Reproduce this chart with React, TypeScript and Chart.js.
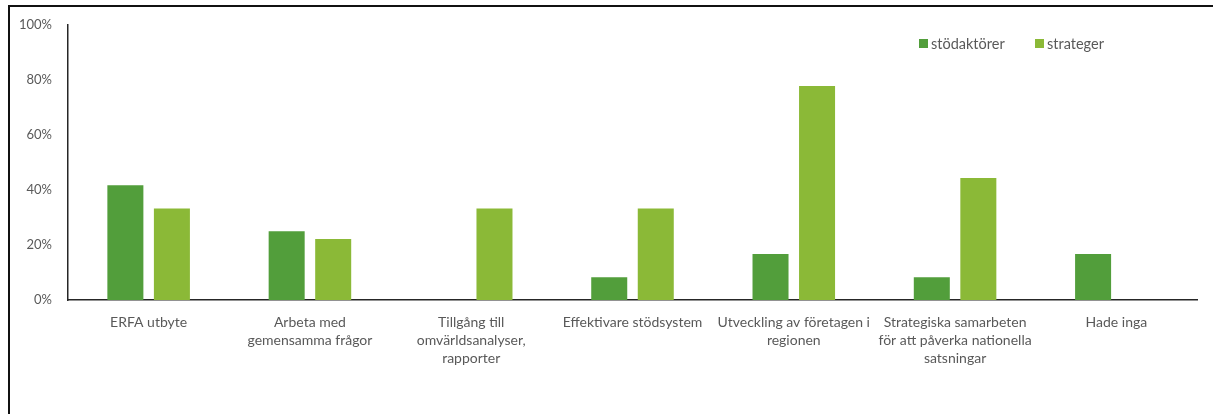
import React, { useEffect, useRef } from "react";
import { Chart, registerables } from "chart.js";

Chart.register(...registerables);

const categories: string[][] = [
  ["ERFA utbyte"],
  ["Arbeta med", "gemensamma frågor"],
  ["Tillgång till", "omvärldsanalyser,", "rapporter"],
  ["Effektivare stödsystem"],
  ["Utveckling av företagen i", "regionen"],
  ["Strategiska samarbeten", "för att påverka nationella", "satsningar"],
  ["Hade inga"],
];
const stodaktorer: number[] = [41.7, 25, 0, 8.3, 16.7, 8.3, 16.7];
const strateger: number[] = [33.3, 22.2, 33.3, 33.3, 77.8, 44.4, 0];
const seriesLabels: string[] = ["stödaktörer", "strateger"];
const yTicks: number[] = [0, 20, 40, 60, 80, 100];

const DARK = "#529E3B";
const LIGHT = "#8BB937";
const TEXT = "#595959";
const FONT = "Lato, 'Open Sans', sans-serif";

const legendPlugin = {
  id: "customLegend",
  afterDraw(chart: any) {
    const ctx = chart.ctx;
    const positions = [919, 1035];
    ctx.save();
    ctx.font = `14.5px ${FONT}`;
    ctx.textBaseline = "middle";
    ctx.textAlign = "left";
    chart.data.datasets.forEach((ds: any, i: number) => {
      const x = positions[i];
      ctx.fillStyle = ds.backgroundColor;
      ctx.fillRect(x, 39, 9, 9);
      ctx.fillStyle = TEXT;
      ctx.fillText(ds.label, x + 12, 44);
    });
    ctx.restore();
  },
};

export default function App() {
  const ref = useRef<HTMLCanvasElement>(null);
  useEffect(() => {
    document.body.style.margin = "0";
    document.body.style.overflow = "hidden";
    const chart = new Chart(ref.current!, {
      type: "bar",
      data: {
        labels: categories,
        datasets: [
          { label: seriesLabels[0], data: stodaktorer, backgroundColor: DARK, borderWidth: 0 },
          { label: seriesLabels[1], data: strateger, backgroundColor: LIGHT, borderWidth: 0 },
        ],
      },
      options: {
        animation: false,
        responsive: false,
        devicePixelRatio: 1,
        datasets: { bar: { categoryPercentage: 0.577, barPercentage: 0.774 } },
        layout: { padding: { left: 8, top: 25, right: 16, bottom: 0 } },
        plugins: { legend: { display: false }, tooltip: { enabled: false } },
        scales: {
          x: {
            grid: { display: false, drawTicks: false },
            border: { display: true, color: "#262626", width: 1.5 },
            ticks: {
              color: TEXT,
              font: { family: FONT, size: 14, lineHeight: 1.29 },
              padding: 13,
              maxRotation: 0,
              autoSkip: false,
            },
            afterFit: (s: any) => {
              s.height = 114;
            },
          },
          y: {
            min: 0,
            max: 100,
            afterBuildTicks: (s: any) => {
              s.ticks = yTicks.map((v) => ({ value: v }));
            },
            grid: { display: false, drawTicks: false },
            border: { display: true, color: "#262626", width: 1.5 },
            ticks: {
              color: TEXT,
              font: { family: FONT, size: 13 },
              padding: 16,
              callback: (v: any) => `${v}%`,
            },
            afterFit: (s: any) => {
              s.width = 60;
            },
          },
        },
      },
      plugins: [legendPlugin],
    });
    return () => chart.destroy();
  }, []);

  return (
    <div style={{ position: "fixed", left: 0, top: 0, width: 1213, height: 414, overflow: "hidden", background: "#fff" }}>
      <div
        style={{
          position: "absolute",
          left: 8,
          top: 5,
          width: 1400,
          height: 600,
          borderLeft: "2px solid #111",
          borderTop: "2px solid #111",
        }}
      />
      <canvas ref={ref} width={1213} height={414} style={{ position: "absolute", left: 0, top: 0 }} />
    </div>
  );
}
